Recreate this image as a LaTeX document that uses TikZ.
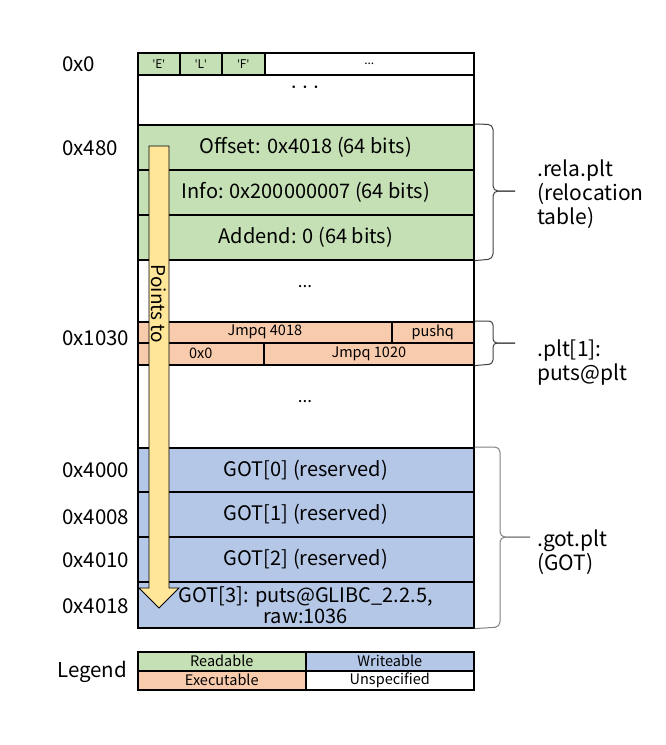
\documentclass[tikz,border=0pt]{standalone}
\usepackage{fontspec}
\setmainfont{Noto Sans CJK SC}
\newfontfamily\quotefont{Open Sans}
\definecolor{cgreen}{HTML}{C5E0B4}
\definecolor{cblue}{HTML}{B4C7E7}
\definecolor{corange}{HTML}{F8CBAD}
\definecolor{cyellow}{HTML}{FFE699}
\definecolor{cbrace}{HTML}{404040}
\newcommand{\fs}[1]{\fontsize{#1}{#1}\selectfont}
\newcommand{\sq}{{\quotefont\char39}}
\begin{document}
\begin{tikzpicture}[x=1pt,y=-1pt,
  cell/.style={draw=black,line width=1.6pt,anchor=north west,inner sep=0pt,minimum width=336pt,font=\fs{20}},
  small/.style={font=\fs{14.5}},
  tiny/.style={font=\fs{12}},
  addr/.style={anchor=west,inner sep=0pt,font=\fs{20.5}},
  sect/.style={anchor=west,inner sep=0pt,align=left,font=\fs{21},text depth=0pt},
  bracepath/.style={draw=cbrace,line width=1pt,rounded corners=5pt},
  arrowbody/.style={fill=cyellow,draw=black,line width=0.9pt,line join=miter}]
\useasboundingbox (0,0) rectangle (665,745);
% header row
\node[cell,fill=cgreen,minimum width=42pt,minimum height=22pt,tiny] (e) at (137,52) {\sq E\sq};
\node[cell,fill=cgreen,minimum width=42pt,minimum height=22pt,tiny] (l) at (179,52) {\sq L\sq};
\node[cell,fill=cgreen,minimum width=43pt,minimum height=22pt,tiny] (f) at (221,52) {\sq F\sq};
\node[cell,fill=white,minimum width=209pt,minimum height=22pt,tiny] (hd) at (264,52) {...};
\node[cell,fill=white,minimum height=50pt] (b1) at (137,74) {};
\node[font=\fs{28}\bfseries,inner sep=0pt] (b1t) at (305,88) {$\cdots$};
% relocation entries
\node[cell,fill=cgreen,minimum height=45pt] (off) at (137,124) {Offset: 0x4018 (64 bits)};
\node[cell,fill=cgreen,minimum height=45pt] (inf) at (137,169) {Info: 0x200000007 (64 bits)};
\node[cell,fill=cgreen,minimum height=45pt] (add) at (137,214) {Addend: 0 (64 bits)};
\node[cell,fill=white,minimum height=62pt] (b2) at (137,259) {};
\node[font=\fs{17},inner sep=0pt] (b2t) at (305,287) {...};
% plt entry
\node[cell,fill=corange,minimum width=254pt,minimum height=21pt,small] (j1) at (137,321) {Jmpq 4018};
\node[cell,fill=corange,minimum width=82pt,minimum height=21pt,small] (ph) at (391,321) {pushq};
\node[cell,fill=corange,minimum width=126pt,minimum height=22pt,small] (z) at (137,342) {0x0};
\node[cell,fill=corange,minimum width=210pt,minimum height=22pt,small] (j2) at (263,342) {Jmpq 1020};
\node[cell,fill=white,minimum height=83pt] (b3) at (137,364) {};
\node[font=\fs{17},inner sep=0pt] (b3t) at (305,402) {...};
% GOT
\node[cell,fill=cblue,minimum height=44pt] (g0) at (137,447) {GOT[0] (reserved)};
\node[cell,fill=cblue,minimum height=45pt] (g1) at (137,491) {GOT[1] (reserved)};
\node[cell,fill=cblue,minimum height=45pt] (g2) at (137,536) {GOT[2] (reserved)};
\node[cell,fill=cblue,minimum height=46pt,align=center] (g3) at (137,581) {GOT[3]: puts@GLIBC\_2.2.5,\\[1pt]raw:1036};
% legend
\node[cell,fill=cgreen,minimum width=168pt,minimum height=19pt,small] (lr) at (137,651) {Readable};
\node[cell,fill=cblue,minimum width=168pt,minimum height=19pt,small] (lw) at (305,651) {Writeable};
\node[cell,fill=corange,minimum width=168pt,minimum height=19pt,small] (lx) at (137,670) {Executable};
\node[cell,fill=white,minimum width=168pt,minimum height=19pt,small] (lu) at (305,670) {Unspecified};
\node[addr] (leg) at (57,672) {Legend};
% addresses
\node[addr] (a0) at (62,64) {0x0};
\node[addr] (a1) at (62,148) {0x480};
\node[addr] (a2) at (62,338) {0x1030};
\node[addr] (a3) at (62,470) {0x4000};
\node[addr] (a4) at (62,517) {0x4008};
\node[addr] (a5) at (62,560) {0x4010};
\node[addr] (a6) at (62,606) {0x4018};
% arrow
\draw[arrowbody] (149,146) -- (169,146) -- (169,588) -- (179,588) -- (159,608) -- (139,588) -- (149,588) -- cycle;
\node[rotate=-90,font=\fs{19},inner sep=0pt] (pt) at (159,304) {Points to};
% braces
\coordinate (rt) at (515,191);
\draw[bracepath] (off.north east) -- (493,124.5) -- (493,191) -- (rt);
\draw[bracepath] (add.south east) -- (493,259) -- (493,191) -- (rt);
\coordinate (pt1) at (515,343);
\draw[bracepath,rounded corners=4pt] (ph.north east) -- (493,321) -- (493,343) -- (pt1);
\draw[bracepath,rounded corners=4pt] (j2.south east) -- (493,364) -- (493,343) -- (pt1);
\coordinate (gt) at (530,537);
\draw[bracepath,draw=gray] (g0.north east) -- (500,447) -- (500,537) -- (gt);
\draw[bracepath,draw=gray] (g3.south east) -- (500,627) -- (500,537) -- (gt);
% section labels
\node[sect] (s1) at (537,192) {.rela.plt\\[1pt](relocation\\[1pt]table)};
\node[sect] (s2) at (537,360) {.plt[1]:\\[1pt]puts@plt};
\node[sect] (s3) at (537,550) {.got.plt\\[1pt](GOT)};
\end{tikzpicture}
\end{document}
